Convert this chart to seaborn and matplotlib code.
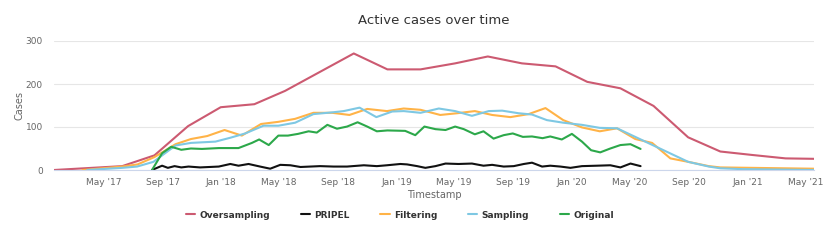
import pandas as pd
import seaborn as sns
import matplotlib.pyplot as plt
import matplotlib.dates as mdates
from matplotlib.ticker import FuncFormatter

# Data
oversampling_dates = ['2017-01-18', '2017-06-09', '2017-08-15', '2017-10-24', '2017-12-31', '2018-03-11',
                      '2018-05-14', '2018-10-04', '2018-12-13', '2019-02-20', '2019-05-03', '2019-07-10',
                      '2019-09-19', '2019-11-28', '2020-02-02', '2020-04-11', '2020-06-19', '2020-08-30',
                      '2020-11-05', '2021-01-10', '2021-03-21', '2021-05-19']
oversampling_cases = [0, 9, 34, 102, 146, 153, 184, 271, 234, 234, 248, 264, 248, 241, 205, 190, 149, 76,
                      43, 35, 27, 26]

filtering_dates = ['2017-03-18', '2017-06-09', '2017-07-11', '2017-08-15', '2017-09-28', '2017-10-30',
                   '2017-12-03', '2018-01-08', '2018-02-13', '2018-03-25', '2018-04-30', '2018-06-04',
                   '2018-07-12', '2018-08-20', '2018-09-25', '2018-11-01', '2018-12-12', '2019-01-16',
                   '2019-02-20', '2019-04-02', '2019-05-07', '2019-06-13', '2019-07-19', '2019-08-26',
                   '2019-10-03', '2019-11-07', '2019-12-14', '2020-01-22', '2020-02-28', '2020-04-04',
                   '2020-05-12', '2020-06-16', '2020-07-24', '2020-08-30', '2020-10-12', '2020-11-05',
                   '2021-01-10', '2021-05-19']
filtering_cases = [0, 8, 13, 30, 60, 72, 79, 93, 80, 107, 112, 119, 133, 133, 128, 142, 137, 143, 140, 128,
                   132, 137, 128, 123, 130, 144, 116, 99, 90, 97, 72, 63, 27, 19, 9, 6, 5, 3]

sampling_dates = ['2017-03-28', '2017-06-09', '2017-07-10', '2017-08-13', '2017-09-28', '2017-10-30',
                  '2017-12-20', '2018-01-20', '2018-02-20', '2018-03-30', '2018-04-30', '2018-06-04',
                  '2018-07-12', '2018-08-20', '2018-09-13', '2018-10-16', '2018-11-20', '2018-12-23',
                  '2019-01-16', '2019-02-20', '2019-03-30', '2019-05-03', '2019-06-07', '2019-07-12',
                  '2019-08-09', '2019-09-12', '2019-10-10', '2019-11-10', '2019-12-14', '2020-01-22',
                  '2020-02-28', '2020-04-04', '2020-08-30', '2020-10-12', '2020-11-05', '2020-12-21',
                  '2021-05-19']
sampling_cases = [0, 5, 8, 19, 57, 63, 66, 75, 85, 103, 103, 110, 130, 134, 137, 145, 123, 136, 137, 133,
                  143, 137, 126, 137, 138, 132, 129, 116, 110, 105, 98, 97, 19, 8, 4, 2, 0]

original_dates = ['2017-08-10', '2017-08-31', '2017-09-19', '2017-10-10', '2017-10-30', '2017-11-22',
                  '2017-12-27', '2018-02-06', '2018-03-06', '2018-03-21', '2018-04-10', '2018-04-30',
                  '2018-05-20', '2018-06-10', '2018-07-02', '2018-07-19', '2018-08-10', '2018-08-30',
                  '2018-09-20', '2018-10-12', '2018-11-01', '2018-11-21', '2018-12-13', '2019-01-19',
                  '2019-02-09', '2019-02-28', '2019-03-23', '2019-04-13', '2019-05-03', '2019-05-21',
                  '2019-06-13', '2019-07-01', '2019-07-22', '2019-08-12', '2019-08-31', '2019-09-21',
                  '2019-10-10', '2019-11-01', '2019-11-17', '2019-12-11', '2020-01-01', '2020-01-22',
                  '2020-02-10', '2020-02-29', '2020-03-21', '2020-04-11', '2020-05-02', '2020-05-23']
original_cases = [0, 39, 54, 47, 50, 49, 51, 51, 63, 71, 58, 80, 80, 84, 90, 87, 105, 96, 101, 111, 101, 90,
                  92, 91, 81, 101, 95, 93, 101, 95, 83, 90, 73, 81, 85, 77, 78, 74, 78, 71, 84, 66, 46,
                  41, 50, 58, 60, 49]

pripel_dates = ['2017-08-10', '2017-08-31', '2017-09-12', '2017-09-26', '2017-10-10', '2017-10-25',
                '2017-11-18', '2017-12-27', '2018-01-20', '2018-02-06', '2018-02-27', '2018-03-23',
                '2018-04-13', '2018-05-04', '2018-05-25', '2018-06-15', '2018-07-26', '2018-08-23',
                '2018-09-20', '2018-10-25', '2018-11-21', '2018-12-12', '2019-01-09', '2019-01-23',
                '2019-02-13', '2019-03-02', '2019-03-23', '2019-04-13', '2019-05-10', '2019-06-07',
                '2019-07-01', '2019-07-19', '2019-08-12', '2019-09-02', '2019-09-23', '2019-10-10',
                '2019-10-31', '2019-11-17', '2019-12-08', '2019-12-29', '2020-01-22', '2020-02-22',
                '2020-03-21', '2020-04-11', '2020-05-02', '2020-05-23']
pripel_cases = [0, 10, 5, 9, 6, 8, 6, 8, 14, 10, 14, 8, 3, 12, 11, 7, 9, 8, 8, 11, 9, 11, 14, 13, 9, 5, 9,
                15, 14, 15, 10, 12, 8, 9, 14, 17, 8, 10, 8, 5, 9, 10, 11, 6, 15, 9]

series_names = ['Oversampling', 'PRIPEL', 'Filtering', 'Sampling', 'Original']
series_colors = ['#cc5a71', '#111111', '#ffb347', '#7ec8e3', '#2ca84a']


def build_frame():
    parts = [
        ('Oversampling', oversampling_dates, oversampling_cases),
        ('PRIPEL', pripel_dates, pripel_cases),
        ('Filtering', filtering_dates, filtering_cases),
        ('Sampling', sampling_dates, sampling_cases),
        ('Original', original_dates, original_cases),
    ]
    dfs = []
    for name, dates, cases in parts:
        dfs.append(pd.DataFrame({'Timestamp': pd.to_datetime(dates), 'Cases': cases, 'series': name}))
    return pd.concat(dfs, ignore_index=True)


df = build_frame()

sns.set_style('white')
plt.rcParams['font.family'] = ['DejaVu Sans']

fig = plt.figure(figsize=(8.3, 2.4), dpi=100)
ax = fig.add_axes([54 / 830, 1 - 170 / 240, (814 - 54) / 830, (170 - 41) / 240])

sns.lineplot(data=df, x='Timestamp', y='Cases', hue='series', hue_order=series_names,
             palette=series_colors, estimator=None, linewidth=1.5, ax=ax)

ax.set_xlim(pd.Timestamp('2017-01-18'), pd.Timestamp('2021-05-19'))
ax.set_ylim(0, 300)
ax.set_yticks([0, 100, 200, 300])
ax.yaxis.grid(True, color='#e6e6e6', linewidth=0.8)
ax.xaxis.grid(False)
ax.set_axisbelow(True)

ax.xaxis.set_major_locator(mdates.MonthLocator(bymonth=[1, 5, 9]))
ax.xaxis.set_major_formatter(FuncFormatter(lambda v, p: mdates.num2date(v).strftime("%b '%y")))

for side in ['top', 'right', 'left']:
    ax.spines[side].set_visible(False)
ax.spines['bottom'].set_color('#ccd6eb')
ax.spines['bottom'].set_linewidth(0.8)

ax.tick_params(axis='x', colors='#ccd6eb', length=4, width=0.8, labelsize=6.5, labelcolor='#666666', pad=2)
ax.tick_params(axis='y', length=0, labelsize=6.5, labelcolor='#666666', pad=8)

ax.set_xlabel('Timestamp', fontsize=7, color='#666666', labelpad=2)
ax.set_ylabel('Cases', fontsize=7, color='#666666', labelpad=1)

fig.text(434 / 830, 1 - 21 / 240, 'Active cases over time', ha='center', va='center',
         fontsize=9.5, color='#333333')

handles, labels = ax.get_legend_handles_labels()
ax.legend_.remove()
leg = fig.legend(handles, labels, loc='center', bbox_to_anchor=(400 / 830, 1 - 215 / 240), ncol=5,
                 frameon=False, fontsize=6.5, handlelength=1.0, handletextpad=0.5, columnspacing=3.4)
for text in leg.get_texts():
    text.set_color('#333333')
    text.set_fontweight('bold')

fig.savefig('out.png', dpi=100)
